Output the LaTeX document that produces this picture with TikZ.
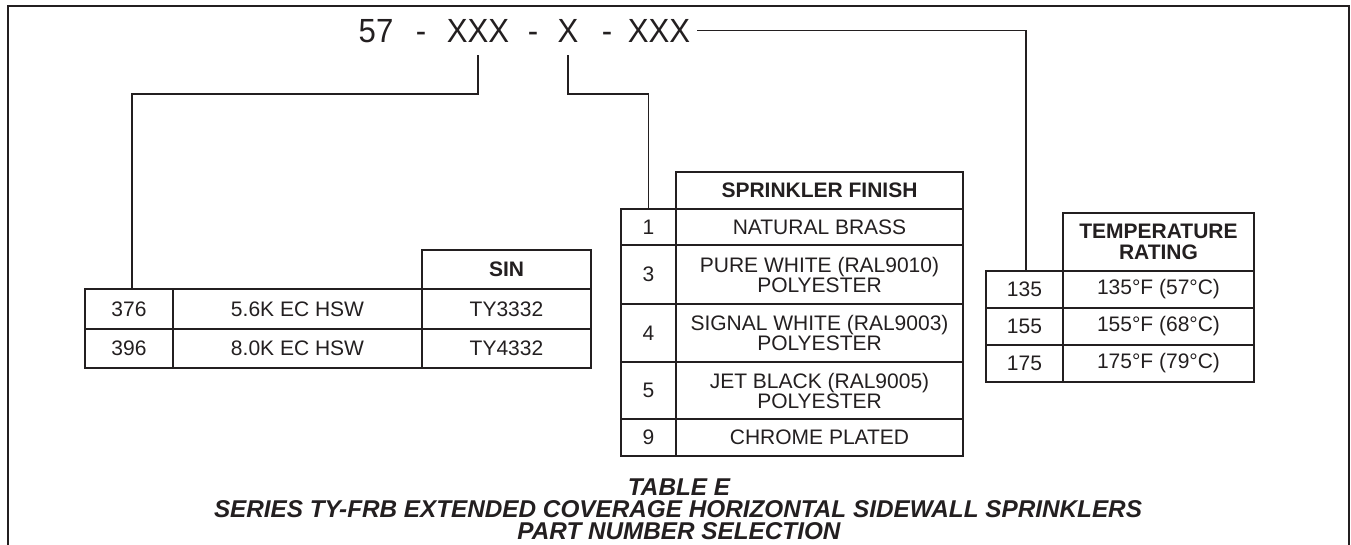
\documentclass[tikz,border=0pt]{standalone}
\usepackage{fontspec}
\setmainfont{Liberation Sans}
\definecolor{ink}{HTML}{231F20}
\newcommand{\ttlbox}[1]{\scalebox{0.93}[1]{#1}}
\begin{document}
\begin{tikzpicture}[x=1pt,y=-1pt,
  every node/.style={text=ink},
  ttl/.style={anchor=base,inner sep=0pt,font=\fontsize{33.5}{36}\selectfont},
  cell/.style={draw=ink,line width=1.8pt,inner sep=0pt,align=center,
    font=\fontsize{21}{20}\selectfont},
  hcell/.style={cell,font=\fontsize{21}{21}\selectfont\bfseries},
  conn/.style={draw=ink,line width=1.8pt},
  captxt/.style={anchor=base,inner sep=0pt,font=\fontsize{24.3}{22}\selectfont\bfseries\itshape}]
\useasboundingbox (0,0) rectangle (1351,544);
% frame
\draw[ink,line width=2.6pt] (8,560) -- (8,6) -- (1349,6) -- (1349,560);
% part number
\node[ttl] (p57) at (376,42) {\ttlbox{57}};
\node[ttl] (d1) at (421,42) {\ttlbox{-}};
\node[ttl] (xxxA) at (478,42) {\ttlbox{XXX}};
\node[ttl] (d2) at (533,42) {\ttlbox{-}};
\node[ttl] (xB) at (568,42) {\ttlbox{X}};
\node[ttl] (d3) at (607,42) {\ttlbox{-}};
\node[ttl] (xxxC) at (659,42) {\ttlbox{XXX}};
% left table
\node[hcell,minimum width=169,minimum height=39] (hL) at (506.5,269.5) {SIN};
\node[cell,minimum width=88,minimum height=40] (r1a) at (129,309) {376};
\node[cell,minimum width=249,minimum height=40] (r1b) at (297.5,309) {5.6K EC HSW};
\node[cell,minimum width=169,minimum height=40] (r1c) at (506.5,309) {TY3332};
\node[cell,minimum width=88,minimum height=39] (r2a) at (129,348.5) {396};
\node[cell,minimum width=249,minimum height=39] (r2b) at (297.5,348.5) {8.0K EC HSW};
\node[cell,minimum width=169,minimum height=39] (r2c) at (506.5,348.5) {TY4332};
% sprinkler finish table
\node[hcell,minimum width=287,minimum height=37] (hS) at (819.5,190.5) {SPRINKLER FINISH};
\node[cell,minimum width=55,minimum height=36] (s1a) at (648.5,227) {1};
\node[cell,minimum width=287,minimum height=36] (s1b) at (819.5,227) {NATURAL BRASS};
\node[cell,minimum width=55,minimum height=59] (s3a) at (648.5,274.5) {3};
\node[cell,minimum width=287,minimum height=59] (s3b) at (819.5,274.5) {PURE WHITE (RAL9010)\\POLYESTER};
\node[cell,minimum width=55,minimum height=58] (s4a) at (648.5,333) {4};
\node[cell,minimum width=287,minimum height=58] (s4b) at (819.5,333) {SIGNAL WHITE (RAL9003)\\POLYESTER};
\node[cell,minimum width=55,minimum height=57] (s5a) at (648.5,390.5) {5};
\node[cell,minimum width=287,minimum height=57] (s5b) at (819.5,390.5) {JET BLACK (RAL9005)\\POLYESTER};
\node[cell,minimum width=55,minimum height=37] (s9a) at (648.5,437.5) {9};
\node[cell,minimum width=287,minimum height=37] (s9b) at (819.5,437.5) {CHROME PLATED};
% temperature table
\node[hcell,minimum width=191,minimum height=58] (hT) at (1158.5,242) {TEMPERATURE\\RATING};
\node[cell,minimum width=77,minimum height=37] (t1a) at (1024.5,289.5) {135};
\node[cell,minimum width=191,minimum height=37] (t1b) at (1158.5,289.5) {135°F (57°C)};
\node[cell,minimum width=77,minimum height=37] (t2a) at (1024.5,326.5) {155};
\node[cell,minimum width=191,minimum height=37] (t2b) at (1158.5,326.5) {155°F (68°C)};
\node[cell,minimum width=77,minimum height=37] (t3a) at (1024.5,363.5) {175};
\node[cell,minimum width=191,minimum height=37] (t3b) at (1158.5,363.5) {175°F (79°C)};
% connectors
\coordinate (lvl) at (0,94);
\draw[conn] ([yshift=-13pt]xxxA.south) |- ([xshift=3pt]r1a.north |- lvl) -- ([xshift=3pt]r1a.north);
\draw[conn] ([yshift=-13pt]xB.south) |- (s1a.north |- lvl) -- (s1a.north);
\draw[conn] ([xshift=7pt]xxxC.east) -| ([xshift=1.5pt]t1a.north);
% caption
\node[captxt] (c1) at (679,495) {TABLE E};
\node[captxt] (c2) at (678,517) {SERIES TY-FRB EXTENDED COVERAGE HORIZONTAL SIDEWALL SPRINKLERS};
\node[captxt] (c3) at (679,539) {PART NUMBER SELECTION};
\end{tikzpicture}
\end{document}
